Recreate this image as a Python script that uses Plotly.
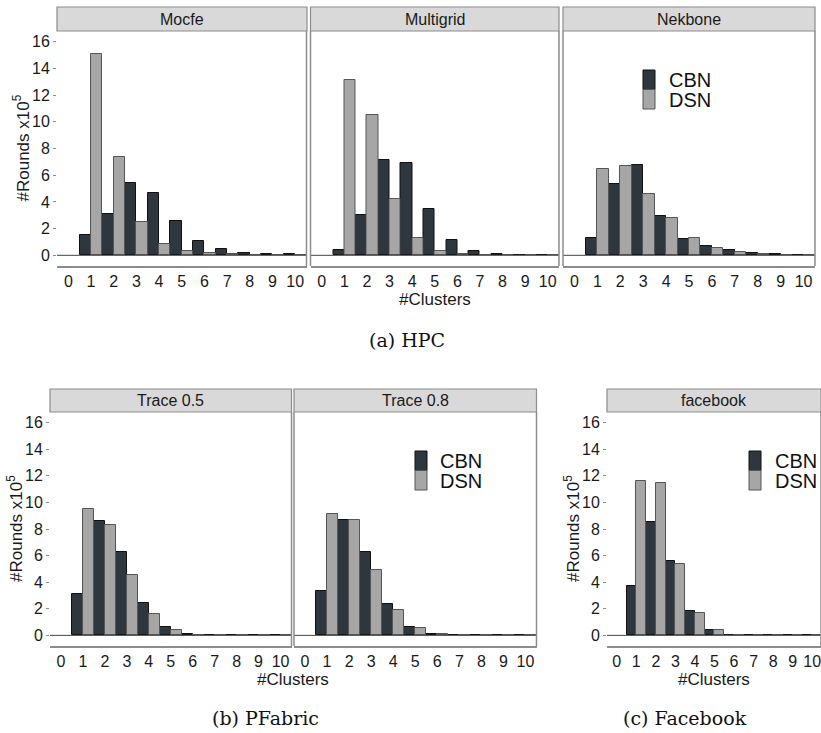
import plotly.graph_objects as go

W, H = 821, 733

clusters = [1, 2, 3, 4, 5, 6, 7, 8, 9, 10]

panel_names = ["Mocfe", "Multigrid", "Nekbone", "Trace 0.5", "Trace 0.8", "facebook"]

cbn_mocfe = [1.5, 3.1, 5.4, 4.65, 2.55, 1.1, 0.45, 0.2, 0.1, 0.08]
dsn_mocfe = [15.1, 7.4, 2.5, 0.83, 0.33, 0.15, 0.07, 0.03, 0.02, 0.01]

cbn_multigrid = [0.4, 3.0, 7.15, 6.95, 3.45, 1.15, 0.35, 0.1, 0.03, 0.01]
dsn_multigrid = [13.1, 10.5, 4.2, 1.3, 0.33, 0.08, 0.03, 0.01, 0.0, 0.0]

cbn_nekbone = [1.3, 5.35, 6.8, 2.95, 1.23, 0.68, 0.38, 0.18, 0.07, 0.05]
dsn_nekbone = [6.5, 6.7, 4.6, 2.78, 1.3, 0.53, 0.23, 0.08, 0.05, 0.02]

cbn_trace05 = [3.1, 8.6, 6.3, 2.43, 0.63, 0.1, 0.03, 0.01, 0.0, 0.0]
dsn_trace05 = [9.5, 8.33, 4.53, 1.58, 0.4, 0.05, 0.02, 0.0, 0.0, 0.0]

cbn_trace08 = [3.3, 8.66, 6.3, 2.38, 0.63, 0.1, 0.03, 0.01, 0.0, 0.0]
dsn_trace08 = [9.14, 8.66, 4.88, 1.9, 0.53, 0.07, 0.03, 0.01, 0.0, 0.0]

cbn_facebook = [3.73, 8.56, 5.58, 1.85, 0.38, 0.05, 0.01, 0.0, 0.0, 0.0]
dsn_facebook = [11.6, 11.45, 5.38, 1.65, 0.38, 0.03, 0.01, 0.0, 0.0, 0.0]

series_cbn = [cbn_mocfe, cbn_multigrid, cbn_nekbone, cbn_trace05, cbn_trace08, cbn_facebook]
series_dsn = [dsn_mocfe, dsn_multigrid, dsn_nekbone, dsn_trace05, dsn_trace08, dsn_facebook]

x_ticks = [0, 1, 2, 3, 4, 5, 6, 7, 8, 9, 10]
y_ticks = [0, 2, 4, 6, 8, 10, 12, 14, 16]

series_names = ["CBN", "DSN"]
captions = ["(a) HPC", "(b) PFabric", "(c) Facebook"]

CBN_FILL = "#2d373d"
CBN_LINE = "#111111"
DSN_FILL = "#a6a6a6"
DSN_LINE = "#555555"
FRAME = "#8c8c8c"
SANS = "Liberation Sans, Arial, sans-serif"
SERIF = "DejaVu Serif, serif"


def px(x):
    return x / W


def py(y):
    return 1 - y / H


# panel pixel boxes: (x0, x1, y_top, y_bottom, strip_top, strip_x1, xmax)
panels = [
    (57, 306.5, 31, 266, 7, 307, 10.5),
    (310.5, 559, 31, 266, 7, 559, 10.5),
    (563, 815, 31, 266, 7, 815, 10.5),
    (50, 291.5, 412, 646, 389, 291.5, 10.5),
    (294, 536.5, 412, 646, 389, 536.5, 10.5),
    (607, 821, 412, 646, 389, 821, 10.45),
]
first_in_row = [True, False, False, True, False, True]

fig = go.Figure()
shapes = []
annotations = []

for i in range(6):
    x0, x1, yt, yb, st, sx1, xmax = panels[i]
    ax = "" if i == 0 else str(i + 1)
    xa = "x" + ax
    ya = "y" + ax
    fig.add_trace(go.Bar(
        x=clusters, y=series_cbn[i], name=series_names[0],
        offset=-0.5, width=0.5,
        marker=dict(color=CBN_FILL, line=dict(color=CBN_LINE, width=1)),
        xaxis=xa, yaxis=ya, showlegend=False,
    ))
    fig.add_trace(go.Bar(
        x=clusters, y=series_dsn[i], name=series_names[1],
        offset=0.0, width=0.5,
        marker=dict(color=DSN_FILL, line=dict(color=DSN_LINE, width=1)),
        xaxis=xa, yaxis=ya, showlegend=False,
    ))
    fig.layout["xaxis" + ax] = dict(
        domain=[px(x0), px(x1)], range=[-0.5, xmax], anchor=ya,
        tickvals=x_ticks, ticks="", showgrid=False, zeroline=False,
        showline=True, linecolor=FRAME, linewidth=1.5,
        ticklabeloverflow="allow",
        tickfont=dict(family=SANS, size=16, color="#1a1a1a"),
        fixedrange=True,
    )
    fig.layout["yaxis" + ax] = dict(
        domain=[py(yb), py(yt)], range=[-0.8, 16.8], anchor=xa,
        tickvals=y_ticks, showgrid=False, zeroline=False, showline=False,
        ticks="outside" if first_in_row[i] else "", ticklen=3,
        tickcolor=FRAME, tickwidth=1,
        showticklabels=first_in_row[i],
        tickfont=dict(family=SANS, size=16, color="#1a1a1a"),
        fixedrange=True,
    )
    # baseline at zero
    shapes.append(dict(type="line", xref=xa + " domain", yref=ya,
                       x0=0, x1=1, y0=0, y1=0,
                       line=dict(color="#444444", width=1), layer="above"))
    # right border
    shapes.append(dict(type="line", xref="paper", yref="paper",
                       x0=px(x1), x1=px(x1), y0=py(yb), y1=py(yt),
                       line=dict(color=FRAME, width=1.5)))
    if not first_in_row[i]:
        shapes.append(dict(type="line", xref="paper", yref="paper",
                           x0=px(x0), x1=px(x0), y0=py(yb), y1=py(yt),
                           line=dict(color=FRAME, width=1.5)))
    # strip
    shapes.append(dict(type="rect", xref="paper", yref="paper",
                       x0=px(x0), x1=px(sx1), y0=py(yt), y1=py(st),
                       fillcolor="#d9d9d9", line=dict(color=FRAME, width=1.2)))
    annotations.append(dict(text=panel_names[i], xref="paper", yref="paper",
                            x=px((x0 + sx1) / 2), y=py((st + yt) / 2),
                            xanchor="center", yanchor="middle", showarrow=False,
                            font=dict(family=SANS, size=16, color="#1a1a1a")))

# legends (key boxes + labels) in panels 3, 5, 6
legend_pos = [(643, 70, 667), (415, 451, 438), (749, 451, 773)]
for kx, ky, tx in legend_pos:
    for j, (fc, lc) in enumerate([(CBN_FILL, CBN_LINE), (DSN_FILL, DSN_LINE)]):
        shapes.append(dict(type="rect", xref="paper", yref="paper",
                           x0=px(kx), x1=px(kx + 12),
                           y0=py(ky + 19.5 * (j + 1)), y1=py(ky + 19.5 * j),
                           fillcolor=fc, line=dict(color=lc, width=1)))
        annotations.append(dict(text=series_names[j], xref="paper", yref="paper",
                                x=px(tx), y=py(ky + 10 + 20 * j),
                                xanchor="left", yanchor="middle", showarrow=False,
                                font=dict(family=SANS, size=20, color="#111111")))

# axis titles
ytitle = "#Rounds x10<sup>5</sup>"
for xc, yc in [(21, 148.5), (15, 529), (572, 529)]:
    annotations.append(dict(text=ytitle, xref="paper", yref="paper",
                            x=px(xc), y=py(yc), textangle=-90,
                            xanchor="center", yanchor="middle", showarrow=False,
                            font=dict(family=SANS, size=17, color="#1a1a1a")))
for xc, yc in [(435, 299), (293, 679), (714, 679)]:
    annotations.append(dict(text="#Clusters", xref="paper", yref="paper",
                            x=px(xc), y=py(yc),
                            xanchor="center", yanchor="middle", showarrow=False,
                            font=dict(family=SANS, size=17, color="#1a1a1a")))

# captions
for txt, xc, yc in zip(captions, [407, 265, 685], [340, 718, 718]):
    annotations.append(dict(text=txt, xref="paper", yref="paper",
                            x=px(xc), y=py(yc),
                            xanchor="center", yanchor="middle", showarrow=False,
                            font=dict(family=SERIF, size=19, color="#111111")))

fig.update_layout(
    width=W, height=H, margin=dict(l=0, r=0, t=0, b=0),
    paper_bgcolor="white", plot_bgcolor="white",
    barmode="overlay", bargap=0, showlegend=False,
    shapes=shapes, annotations=annotations,
)

fig.write_html("out.html", include_plotlyjs=True, config={"displayModeBar": False})
